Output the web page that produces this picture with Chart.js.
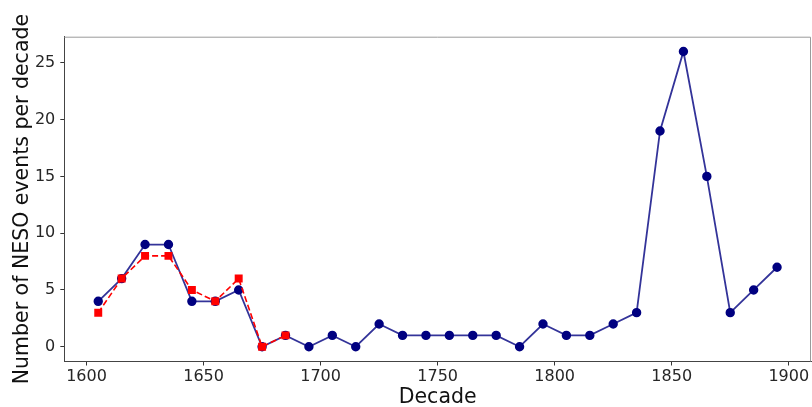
<!DOCTYPE html>
<html>
<head>
<meta charset="utf-8">
<script src="https://cdn.jsdelivr.net/npm/chart.js@4.4.1/dist/chart.umd.min.js"></script>
<style>
  html, body { margin: 0; padding: 0; background: #fff; }
</style>
</head>
<body>
<canvas id="neso" width="812" height="407"></canvas>
<script>
// =========================
// Data
// =========================
const decades = [1605, 1615, 1625, 1635, 1645, 1655, 1665, 1675, 1685, 1695,
                 1705, 1715, 1725, 1735, 1745, 1755, 1765, 1775, 1785, 1795,
                 1805, 1815, 1825, 1835, 1845, 1855, 1865, 1875, 1885, 1895];
const allEvents = [4, 6, 9, 9, 4, 4, 5, 0, 1, 0,
                   1, 0, 2, 1, 1, 1, 1, 1, 0, 2,
                   1, 1, 2, 3, 19, 26, 15, 3, 5, 7];

const earlyDecades = [1605, 1615, 1625, 1635, 1645, 1655, 1665, 1675, 1685];
const earlyEvents = [3, 6, 8, 8, 5, 4, 6, 0, 1];

const xTicks = [1600, 1650, 1700, 1750, 1800, 1850, 1900];
const yTicks = [0, 5, 10, 15, 20, 25];

const toPoints = (xs, ys) => xs.map((x, i) => ({ x: x, y: ys[i] }));

// =========================
// Frame round the plot area
// =========================
const framePlugin = {
    id: 'frame',
    afterDatasetsDraw(chart) {
        const a = chart.chartArea;
        const ctx = chart.ctx;
        ctx.save();
        ctx.lineWidth = 1;
        ctx.strokeStyle = '#9a9a9a';
        ctx.beginPath();
        ctx.moveTo(a.left, a.top + 0.5);
        ctx.lineTo(a.right - 0.5, a.top + 0.5);
        ctx.lineTo(a.right - 0.5, a.bottom);
        ctx.stroke();
        ctx.restore();
    }
};

const font = 'DejaVu Sans';

new Chart(document.getElementById('neso'), {
    type: 'line',
    data: {
        datasets: [{
            // dashed red series, drawn on top
            data: toPoints(earlyDecades, earlyEvents),
            borderColor: '#ff0000',
            backgroundColor: '#ff0000',
            borderWidth: 1.6,
            borderDash: [6, 3],
            pointStyle: 'rect',
            pointRadius: 4.5,
            pointHoverRadius: 4.5,
            tension: 0
        }, {
            data: toPoints(decades, allEvents),
            borderColor: 'rgba(0,0,128,0.8)',
            backgroundColor: '#000080',
            pointBorderColor: '#000080',
            borderWidth: 1.8,
            pointStyle: 'circle',
            pointRadius: 3.8,
            pointHoverRadius: 3.8,
            tension: 0
        }]
    },
    options: {
        responsive: false,
        animation: false,
        // no extra room for point overflow, the margins are fixed by hand
        layout: { autoPadding: false, padding: { top: 36.7, right: 1, left: 0, bottom: 0 } },
        plugins: {
            legend: { display: false },
            tooltip: { enabled: false }
        },
        scales: {
            x: {
                type: 'linear',
                min: 1590.5,
                max: 1909.5,
                afterBuildTicks: (axis) => { axis.ticks = xTicks.map(v => ({ value: v })); },
                afterFit: (axis) => {
                    axis.height = 45.5;
                    axis.paddingLeft = 0;
                    axis.paddingRight = 0;
                },
                grid: { drawOnChartArea: false, tickLength: 4, color: '#333' },
                border: { color: '#444', width: 1 },
                ticks: {
                    color: '#262626', font: { family: font, size: 16 }, padding: 2,
                    callback: (v) => String(v)
                },
                title: { display: true, text: 'Decade', color: '#111', font: { family: font, size: 20.5 }, padding: { top: 0, bottom: -3 } }
            },
            y: {
                min: -1.3,
                max: 27.3,
                afterBuildTicks: (axis) => { axis.ticks = yTicks.map(v => ({ value: v })); },
                afterFit: (axis) => {
                    axis.width = 64.3;
                    axis.paddingTop = 0;
                    axis.paddingBottom = 0;
                },
                grid: { drawOnChartArea: false, tickLength: 4, color: '#333' },
                border: { color: '#444', width: 1 },
                ticks: {
                    color: '#262626', font: { family: font, size: 16 }, padding: 5,
                    callback: (v) => String(v)
                },
                title: { display: true, text: 'Number of NESO events per decade', color: '#111', font: { family: font, size: 20.5 }, padding: { top: 10, bottom: 0 } }
            }
        }
    },
    plugins: [framePlugin]
});
</script>
</body>
</html>
